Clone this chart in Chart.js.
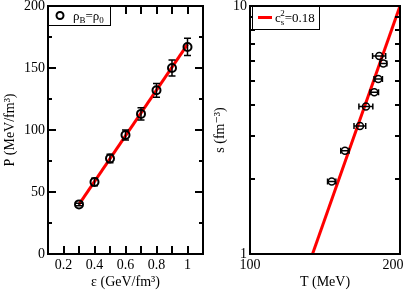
<!DOCTYPE html>
<html><head><meta charset="utf-8">
<script src="https://cdn.jsdelivr.net/npm/chart.js@4/dist/chart.umd.min.js"></script>
<style>
html,body{margin:0;padding:0;background:#fff;}
#wrap{position:relative;width:407px;height:291px;}
canvas{position:absolute;left:0;top:0;}
</style></head>
<body><div id="wrap"><canvas id="c1" width="407" height="291"></canvas><canvas id="c2" width="407" height="291"></canvas></div>
<script>
// ---- left panel data ----
const epsVals = [0.3, 0.4, 0.5, 0.6, 0.7, 0.8, 0.9, 1.0];
const pVals   = [40, 58, 77, 96, 113, 132, 150, 167];
const pErr    = [1, 3, 3.5, 4, 5, 5.5, 6.5, 7];
const fitEps  = [0.3, 1.0];
const fitP    = [40, 169];
const leftXTicks = [0.2, 0.4, 0.6, 0.8, 1];
const leftXMinor = [0.1, 0.2, 0.3, 0.4, 0.5, 0.6, 0.7, 0.8, 0.9, 1.0, 1.1];
const leftYTicks = [0, 50, 100, 150, 200];
const leftYMinor = [25, 75, 125, 175];
// ---- right panel data ----
const tVals = [181.7, 185.2, 180.9, 177.6, 170.9, 166.2, 155.1, 145.9];
const sVals = [6.29, 5.87, 5.08, 4.49, 3.93, 3.28, 2.61, 1.96];
const tErr  = [5.5, 3, 3.5, 3.5, 5.5, 4.5, 3, 2.8];
const fitT  = [133.5, 200];
const fitS  = [1, 10];
const rightXTicks = [100, 200];
const rightYTicks = [1, 10];
const rightYMinor = [2, 3, 4, 5, 6, 7, 8, 9];

const SERIF = "'Liberation Serif','DejaVu Serif',serif";

function pts(xs, ys){ return xs.map((x,i)=>({x:x, y:ys[i]})); }

const framePlugin = {
  id:'frame',
  afterDatasetsDraw(chart, args, o){
    const ctx = chart.ctx, xs = chart.scales.x, ys = chart.scales.y;
    ctx.save();
    ctx.strokeStyle = '#000'; ctx.lineWidth = 1.5;
    if (o.errY){
      o.errY.forEach((e,i)=>{
        const px = xs.getPixelForValue(o.ex[i]);
        const y1 = ys.getPixelForValue(o.ey[i]-e), y2 = ys.getPixelForValue(o.ey[i]+e);
        ctx.beginPath();
        ctx.moveTo(px,y1); ctx.lineTo(px,y2);
        ctx.moveTo(px-3.5,y1); ctx.lineTo(px+3.5,y1);
        ctx.moveTo(px-3.5,y2); ctx.lineTo(px+3.5,y2);
        ctx.stroke();
      });
    }
    if (o.errX){
      o.errX.forEach((e,i)=>{
        const py = ys.getPixelForValue(o.ey[i]);
        const x1 = xs.getPixelForValue(o.ex[i]-e), x2 = xs.getPixelForValue(o.ex[i]+e);
        ctx.beginPath();
        ctx.moveTo(x1,py); ctx.lineTo(x2,py);
        ctx.moveTo(x1,py-3); ctx.lineTo(x1,py+3);
        ctx.moveTo(x2,py-3); ctx.lineTo(x2,py+3);
        ctx.stroke();
      });
    }
    ctx.restore();
  },
  afterDraw(chart, args, o){
    const ctx = chart.ctx, a = chart.chartArea, xs = chart.scales.x, ys = chart.scales.y;
    ctx.save();
    ctx.strokeStyle = '#000'; ctx.lineWidth = 2;
    ctx.strokeRect(a.left, a.top, a.right-a.left, a.bottom-a.top);
    ctx.beginPath();
    (o.xTickVals||[]).forEach(v=>{
      const px = Math.round(xs.getPixelForValue(v));
      ctx.moveTo(px,a.bottom); ctx.lineTo(px,a.bottom-o.xLen);
      ctx.moveTo(px,a.top); ctx.lineTo(px,a.top+o.xLen);
    });
    (o.yMajor||[]).forEach(v=>{
      const py = Math.round(ys.getPixelForValue(v));
      ctx.moveTo(a.left,py); ctx.lineTo(a.left+8,py);
      ctx.moveTo(a.right,py); ctx.lineTo(a.right-8,py);
    });
    (o.yMinor||[]).forEach(v=>{
      const py = Math.round(ys.getPixelForValue(v));
      ctx.moveTo(a.left,py); ctx.lineTo(a.left+o.yMinLen,py);
      ctx.moveTo(a.right,py); ctx.lineTo(a.right-o.yMinLen,py);
    });
    ctx.stroke();
    // legend box
    const L = o.legend;
    ctx.fillStyle = '#fff'; ctx.lineWidth = 1; ctx.strokeStyle = '#000';
    ctx.fillRect(L.x, L.y, L.w, L.h);
    ctx.strokeRect(L.x+0.5, L.y+0.5, L.w, L.h);
    const cy = L.y + L.h/2;
    if (L.type === 'circle'){
      ctx.lineWidth = 2;
      ctx.beginPath(); ctx.arc(L.x+12, cy, 3.5, 0, Math.PI*2); ctx.stroke();
    } else {
      ctx.strokeStyle = '#ff0000'; ctx.lineWidth = 3;
      ctx.beginPath(); ctx.moveTo(L.x+6, cy); ctx.lineTo(L.x+20, cy); ctx.stroke();
    }
    ctx.fillStyle = '#000'; ctx.textBaseline = 'alphabetic';
    let tx = L.x + L.tx;
    const base = cy + 4;
    L.parts.forEach(p=>{
      const size = p.k === 'n' ? 13 : 9;
      const dy = p.k === 'sub' ? 3 : (p.k === 'sup' ? -6 : 0);
      ctx.font = size + 'px ' + SERIF;
      ctx.fillText(p.t, tx, base + dy);
      tx += ctx.measureText(p.t).width + (p.gap||0);
    });
    ctx.restore();
  }
};

function fitX(h){ return function(s){ s.height = h; s.paddingLeft = 0; s.paddingRight = 0; }; }
function fitY(w){ return function(s){ s.width = w; s.paddingTop = 0; s.paddingBottom = 0; }; }
function setTicks(list){ return function(s){ s.ticks = list.map(v=>({value:v})); }; }

const tickFont = {family: SERIF, size: 14};
const titleFont = {family: SERIF, size: 14};

new Chart(document.getElementById('c1'), {
  type: 'scatter',
  data: { datasets: [
    { data: pts(epsVals, pVals), pointStyle:'circle', pointRadius:4, pointBorderWidth:2,
      borderColor:'#000', backgroundColor:'rgba(0,0,0,0)', showLine:false },
    { data: pts(fitEps, fitP), showLine:true, borderColor:'#ff0000', borderWidth:3, pointRadius:0 }
  ]},
  options: {
    animation:false, responsive:false, devicePixelRatio:1,
    layout:{ padding:{ left:0, right:204, top:6, bottom:0 } },
    plugins:{ legend:{display:false}, tooltip:{enabled:false},
      frame:{ ex:epsVals, ey:pVals, errY:pErr, xTickVals:leftXMinor, xLen:8,
        yMajor:leftYTicks, yMinor:leftYMinor, yMinLen:4,
        legend:{ x:48, y:6, w:62, h:19, type:'circle', tx:25,
          parts:[{t:'ρ',k:'n'},{t:'B',k:'sub'},{t:'=ρ',k:'n'},{t:'0',k:'sub'}] } } },
    scales:{
      x:{ type:'linear', min:0.1, max:1.1, afterBuildTicks:setTicks(leftXTicks), afterFit:fitX(37),
        grid:{display:false, drawTicks:false}, border:{display:true, color:'#000', width:2},
        ticks:{ color:'#000', font:tickFont, padding:3, maxRotation:0, autoSkip:false, callback:v=>String(v) },
        title:{ display:true, text:'ε (GeV/fm³)', color:'#000', font:titleFont, padding:{top:0,bottom:0} } },
      y:{ type:'linear', min:0, max:200, afterBuildTicks:setTicks(leftYTicks), afterFit:fitY(48),
        grid:{display:false, drawTicks:false}, border:{display:true, color:'#000', width:2},
        ticks:{ color:'#000', font:tickFont, padding:3, callback:v=>String(v) },
        title:{ display:true, text:'P (MeV/fm³)', color:'#000', font:titleFont, padding:{top:2,bottom:0} } }
    }
  },
  plugins:[framePlugin]
});

new Chart(document.getElementById('c2'), {
  type: 'scatter',
  data: { datasets: [
    { data: pts(tVals, sVals), pointStyle:'circle', pointRadius:3.5, pointBorderWidth:1.5,
      borderColor:'#000', backgroundColor:'rgba(0,0,0,0)', showLine:false },
    { data: pts(fitT, fitS), showLine:true, borderColor:'#ff0000', borderWidth:3, pointRadius:0 }
  ]},
  options: {
    animation:false, responsive:false, devicePixelRatio:1,
    layout:{ padding:{ left:205, right:7, top:6, bottom:0 } },
    plugins:{ legend:{display:false}, tooltip:{enabled:false},
      frame:{ ex:tVals, ey:sVals, errX:tErr, xTickVals:rightXTicks, xLen:3,
        yMajor:rightYTicks, yMinor:rightYMinor, yMinLen:5,
        legend:{ x:252, y:6, w:67, h:23, type:'line', tx:23,
          parts:[{t:'c',k:'n'},{t:'s',k:'sub',gap:-4},{t:'2',k:'sup',gap:0},{t:'=0.18',k:'n'}] } } },
    scales:{
      x:{ type:'logarithmic', min:100, max:200, afterBuildTicks:setTicks(rightXTicks), afterFit:fitX(37),
        grid:{display:false, drawTicks:false}, border:{display:true, color:'#000', width:2},
        ticks:{ color:'#000', font:tickFont, padding:3, maxRotation:0, autoSkip:false,
          callback:(v,i)=> i === rightXTicks.length-1 ? String(v)+'\u2002\u2002' : String(v) },
        title:{ display:true, text:'T (MeV)', color:'#000', font:titleFont, padding:{top:0,bottom:0} } },
      y:{ type:'logarithmic', min:1, max:10, afterBuildTicks:setTicks(rightYTicks), afterFit:fitY(45),
        grid:{display:false, drawTicks:false}, border:{display:true, color:'#000', width:2},
        ticks:{ color:'#000', font:tickFont, padding:3, callback:v=>String(v) },
        title:{ display:true, text:'s (fm⁻³)', color:'#000', font:titleFont, padding:{top:7,bottom:0} } }
    }
  },
  plugins:[framePlugin]
});
</script>
</body></html>
